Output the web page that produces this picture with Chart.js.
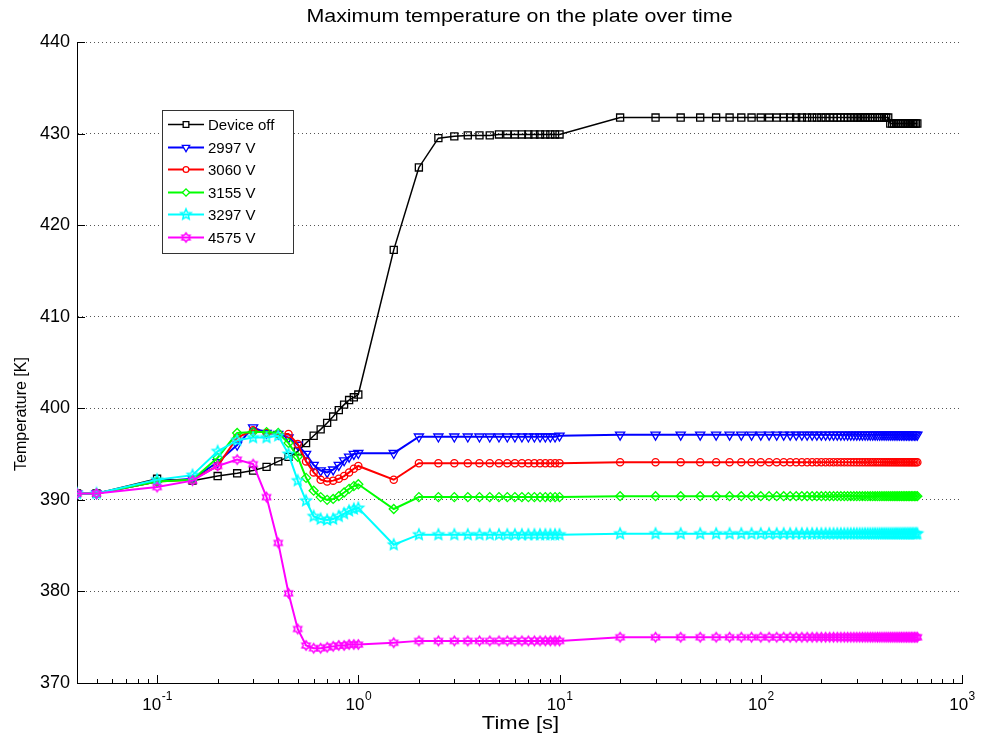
<!DOCTYPE html>
<html>
<head>
<meta charset="utf-8">
<script src="https://cdn.jsdelivr.net/npm/chart.js@4.4.1/dist/chart.umd.min.js"></script>
<style>
html, body { margin: 0; padding: 0; background: #fff; }
#wrap { width: 984px; height: 744px; }
</style>
</head>
<body>
<div id="wrap"><canvas id="tempChart" width="984" height="744"></canvas></div>
<script>
var timeS = [
  0.04,0.05,0.1,0.15,0.2,0.25,0.3,0.35,0.4,0.45,0.5,0.55,0.6,0.65,0.7,0.75,0.8,0.85,0.9,0.95,1,
  1.5,2,2.5,3,3.5,4,4.5,5,5.5,6,6.5,7,7.5,8,8.5,9,9.5,10,
  20,30,40,50,60,70,80,90,100,110,120,130,140,150,160,170,180,190,200,210,
  220,230,240,250,260,270,280,290,300,310,320,330,340,350,360,370,380,390,400,410,
  420,430,440,450,460,470,480,490,500,510,520,530,540,550,560,570,580,590,600
];

var deviceOff = [
  390.7,390.7,392.3,392.1,392.6,392.9,393.2,393.6,394.2,394.7,395.3,396.2,397.0,397.7,398.4,399.1,399.8,400.4,400.9,401.2,401.5,
  417.3,426.3,429.5,429.7,429.8,429.8,429.8,429.9,429.9,429.9,429.9,429.9,429.9,429.9,429.9,429.9,429.9,429.9,
  431.75,431.75,431.75,431.75,431.75,431.75,431.75,431.75,431.75,431.75,431.75,431.75,431.75,431.75,431.75,431.75,431.75,431.75,431.75,431.75,
  431.75,431.75,431.75,431.75,431.75,431.75,431.75,431.75,431.75,431.75,431.75,431.75,431.75,431.75,431.75,431.75,431.75,431.75,431.75,431.75,
  431.75,431.75,431.1,431.1,431.1,431.1,431.1,431.1,431.1,431.1,431.1,431.1,431.1,431.1,431.1,431.1,431.1,431.1,431.1
];
var v2997 = [
  390.7,390.7,392.0,392.3,394.1,396.0,397.9,397.3,397.2,396.8,396.0,395.0,393.8,393.2,393.0,393.3,393.8,394.3,394.7,395.0,395.1,
  395.1,396.9,396.9,396.9,396.9,396.9,396.9,396.9,396.9,396.9,396.9,396.9,396.9,396.9,396.9,396.9,396.9,397.0,
  397.1,397.1,397.1,397.1,397.1,397.1,397.1,397.1,397.1,397.1,397.1,397.1,397.1,397.1,397.1,397.1,397.1,397.1,397.1,397.1,
  397.1,397.1,397.1,397.1,397.1,397.1,397.1,397.1,397.1,397.1,397.1,397.1,397.1,397.1,397.1,397.1,397.1,397.1,397.1,397.1,
  397.1,397.1,397.1,397.1,397.1,397.1,397.1,397.1,397.1,397.1,397.1,397.1,397.1,397.1,397.1,397.1,397.1,397.1,397.1
];
var v3060 = [
  390.7,390.7,392.0,392.2,393.7,396.8,397.6,397.3,397.2,397.2,396.1,394.2,393.0,392.2,392.0,392.1,392.3,392.6,393.0,393.4,393.7,
  392.2,394.0,394.0,394.0,394.0,394.0,394.0,394.0,394.0,394.0,394.0,394.0,394.0,394.0,394.0,394.0,394.0,394.0,
  394.1,394.1,394.1,394.1,394.1,394.1,394.1,394.1,394.1,394.1,394.1,394.1,394.1,394.1,394.1,394.1,394.1,394.1,394.1,394.1,
  394.1,394.1,394.1,394.1,394.1,394.1,394.1,394.1,394.1,394.1,394.1,394.1,394.1,394.1,394.1,394.1,394.1,394.1,394.1,394.1,
  394.1,394.1,394.1,394.1,394.1,394.1,394.1,394.1,394.1,394.1,394.1,394.1,394.1,394.1,394.1,394.1,394.1,394.1,394.1
];
var v3155 = [
  390.7,390.7,392.0,392.2,394.6,397.3,397.4,397.4,397.3,396.2,394.7,392.4,391.0,390.3,390.0,390.1,390.4,390.8,391.2,391.5,391.7,
  389.0,390.3,390.3,390.3,390.3,390.3,390.3,390.3,390.3,390.3,390.3,390.3,390.3,390.3,390.3,390.3,390.3,390.3,
  390.4,390.4,390.4,390.4,390.4,390.4,390.4,390.4,390.4,390.4,390.4,390.4,390.4,390.4,390.4,390.4,390.4,390.4,390.4,390.4,
  390.4,390.4,390.4,390.4,390.4,390.4,390.4,390.4,390.4,390.4,390.4,390.4,390.4,390.4,390.4,390.4,390.4,390.4,390.4,390.4,
  390.4,390.4,390.4,390.4,390.4,390.4,390.4,390.4,390.4,390.4,390.4,390.4,390.4,390.4,390.4,390.4,390.4,390.4,390.4
];
var v3297 = [
  390.7,390.7,392.2,392.7,395.3,396.5,396.8,396.8,397.0,395.0,392.1,389.9,388.2,387.9,387.8,387.9,388.2,388.5,388.8,389.0,389.1,
  385.1,386.2,386.2,386.2,386.2,386.2,386.2,386.2,386.2,386.2,386.2,386.2,386.2,386.2,386.2,386.2,386.2,386.2,
  386.3,386.3,386.3,386.3,386.3,386.3,386.3,386.3,386.3,386.3,386.3,386.3,386.3,386.3,386.3,386.3,386.3,386.3,386.3,386.3,
  386.3,386.3,386.3,386.3,386.3,386.3,386.3,386.3,386.3,386.3,386.3,386.3,386.3,386.3,386.3,386.3,386.3,386.3,386.3,386.3,
  386.3,386.3,386.3,386.3,386.3,386.3,386.3,386.3,386.3,386.3,386.3,386.3,386.3,386.3,386.3,386.3,386.3,386.3,386.3
];
var v4575 = [
  390.7,390.7,391.4,392.1,393.7,394.4,393.9,390.3,385.3,379.8,375.9,374.1,373.8,373.8,373.9,374.0,374.1,374.1,374.2,374.2,374.2,
  374.4,374.6,374.6,374.6,374.6,374.6,374.6,374.6,374.6,374.6,374.6,374.6,374.6,374.6,374.6,374.6,374.6,374.6,
  375.0,375.0,375.0,375.0,375.0,375.0,375.0,375.0,375.0,375.0,375.0,375.0,375.0,375.0,375.0,375.0,375.0,375.0,375.0,375.0,
  375.0,375.0,375.0,375.0,375.0,375.0,375.0,375.0,375.0,375.0,375.0,375.0,375.0,375.0,375.0,375.0,375.0,375.0,375.0,375.0,
  375.0,375.0,375.0,375.0,375.0,375.0,375.0,375.0,375.0,375.0,375.0,375.0,375.0,375.0,375.0,375.0,375.0,375.0,375.0
];

var seriesLabels = ["Device off", "2997 V", "3060 V", "3155 V", "3297 V", "4575 V"];
var seriesColors = ["#000000", "#0000ff", "#ff0000", "#00ff00", "#00ffff", "#ff00ff"];
var yTicks = [370, 380, 390, 400, 410, 420, 430, 440];
var xTickValues = [0.1, 1, 10, 100, 1000];
var xTickExps = ["-1", "0", "1", "2", "3"];
var chartTitle = "Maximum temperature on the plate over time";
var xTitle = "Time [s]";
var yTitle = "Temperature [K]";

var FONT = "'Liberation Sans', Arial, Helvetica, sans-serif";

function starImage(n, color, rOut, rIn, lw) {
  var size = Math.ceil(rOut * 2 + lw * 2 + 2);
  var c = document.createElement("canvas");
  c.width = size; c.height = size;
  var g = c.getContext("2d");
  g.translate(size / 2, size / 2);
  g.beginPath();
  for (var k = 0; k < 2 * n; k++) {
    var r = (k % 2 === 0) ? rOut : rIn;
    var a = -Math.PI / 2 + k * Math.PI / n;
    g.lineTo(r * Math.cos(a), r * Math.sin(a));
  }
  g.closePath();
  g.strokeStyle = color;
  g.lineWidth = lw;
  g.stroke();
  return c;
}

var markerStyles = [
  { pointStyle: "rect", radius: 5, rotation: 0 },
  { pointStyle: "triangle", radius: 5.3, rotation: 180 },
  { pointStyle: "circle", radius: 3.6, rotation: 0 },
  { pointStyle: "rectRot", radius: 4.5, rotation: 0 },
  { pointStyle: starImage(5, "#00ffff", 5.5, 2.5, 1.5), radius: 6, rotation: 0 },
  { pointStyle: starImage(6, "#ff00ff", 4.6, 2.8, 1.6), radius: 6, rotation: 0 }
];

var allValues = [deviceOff, v2997, v3060, v3155, v3297, v4575];

var datasets = allValues.map(function(vals, i) {
  return {
    label: seriesLabels[i],
    data: timeS.map(function(t, j) { return { x: t, y: vals[j] }; }),
    borderColor: seriesColors[i],
    backgroundColor: seriesColors[i],
    borderWidth: i === 0 ? 1.5 : 2,
    pointStyle: markerStyles[i].pointStyle,
    pointRadius: markerStyles[i].radius,
    pointRotation: markerStyles[i].rotation,
    pointBorderColor: seriesColors[i],
    pointBackgroundColor: "rgba(255,255,255,0)",
    pointBorderWidth: 1.3,
    tension: 0,
    fill: false,
    order: 5 - i
  };
});

// draws text stretched horizontally, centred on cx
function stretchedText(ctx, text, cx, cy, size, sx, rot) {
  ctx.save();
  ctx.font = size + "px " + FONT;
  ctx.textAlign = "center";
  ctx.textBaseline = "middle";
  ctx.translate(cx, cy);
  if (rot) ctx.rotate(rot);
  ctx.scale(sx, 1);
  ctx.fillText(text, 0, 0);
  ctx.restore();
}

var axesDecor = {
  id: "axesDecor",
  afterDraw: function(chart) {
    var ctx = chart.ctx;
    var xs = chart.scales.x;
    var ys = chart.scales.y;
    var area = chart.chartArea;
    ctx.save();

    // inward tick marks
    ctx.strokeStyle = "#000";
    ctx.lineWidth = 1;
    ctx.beginPath();
    yTicks.forEach(function(v) {
      var py = Math.round(ys.getPixelForValue(v)) + 0.5;
      ctx.moveTo(area.left, py);
      ctx.lineTo(area.left + 8, py);
    });
    for (var d = -2; d <= 3; d++) {
      for (var m = 1; m <= 9; m++) {
        var v = m * Math.pow(10, d);
        if (v < xs.min || v > xs.max * 1.0001) continue;
        var px = Math.round(xs.getPixelForValue(v)) + 0.5;
        var len = (m === 1) ? 8 : 4;
        ctx.moveTo(px, area.bottom);
        ctx.lineTo(px, area.bottom - len);
      }
    }
    ctx.stroke();

    // x tick labels as 10 with superscript exponent
    ctx.fillStyle = "#000";
    ctx.textBaseline = "alphabetic";
    ctx.textAlign = "left";
    xTickValues.forEach(function(v, i) {
      var px = xs.getPixelForValue(v);
      ctx.font = "17px " + FONT;
      var w1 = ctx.measureText("10").width;
      ctx.font = "12px " + FONT;
      var w2 = ctx.measureText(xTickExps[i]).width;
      var x0 = px - (w1 + w2) / 2;
      ctx.font = "17px " + FONT;
      ctx.fillText("10", x0, 710);
      ctx.font = "12px " + FONT;
      ctx.fillText(xTickExps[i], x0 + w1 + 0.5, 700);
    });

    // title and axis labels
    ctx.fillStyle = "#000";
    stretchedText(ctx, chartTitle, (area.left + area.right) / 2, 17, 18, 1.19, 0);
    stretchedText(ctx, xTitle, (area.left + area.right) / 2 + 1, 724, 18, 1.22, 0);
    stretchedText(ctx, yTitle, 22, 414, 16, 1, -Math.PI / 2);

    // legend box
    var bx = 162, by = 110, bw = 131, bh = 143;
    ctx.fillStyle = "#fff";
    ctx.fillRect(bx, by, bw, bh);
    ctx.strokeStyle = "#333";
    ctx.lineWidth = 1;
    ctx.strokeRect(bx + 0.5, by + 0.5, bw, bh);
    ctx.font = "15px " + FONT;
    ctx.textBaseline = "middle";
    ctx.textAlign = "left";
    chart.data.datasets.forEach(function(ds, i) {
      var ly = Math.round(by + 14 + i * 22.6) + 0.5;
      ctx.strokeStyle = ds.borderColor;
      ctx.lineWidth = ds.borderWidth;
      ctx.beginPath();
      ctx.moveTo(168, ly);
      ctx.lineTo(204, ly);
      ctx.stroke();
      ctx.lineWidth = ds.pointBorderWidth;
      ctx.fillStyle = "#fff";
      Chart.helpers.drawPoint(ctx, {
        pointStyle: ds.pointStyle,
        rotation: ds.pointRotation,
        radius: ds.pointRadius * 0.8,
        borderWidth: ds.pointBorderWidth
      }, 186, ly);
      ctx.fillStyle = "#000";
      ctx.fillText(ds.label, 208, ly + 1);
    });

    ctx.restore();
  }
};

var tempChart = new Chart(document.getElementById("tempChart"), {
  type: "line",
  data: { datasets: datasets },
  options: {
    responsive: false,
    animation: false,
    events: [],
    devicePixelRatio: 1,
    layout: { padding: { left: 0, right: 22, top: 42, bottom: 0 } },
    plugins: {
      legend: { display: false },
      tooltip: { enabled: false },
      title: { display: false }
    },
    scales: {
      x: {
        type: "logarithmic",
        min: 0.04,
        max: 1000,
        grid: { display: false, drawTicks: false },
        border: { display: true, color: "#000", width: 1 },
        ticks: { display: false },
        afterFit: function(scale) { scale.height = 61; }
      },
      y: {
        min: 370,
        max: 440,
        grid: { display: true, drawTicks: false, color: "#555", lineWidth: 1 },
        border: { display: true, color: "#000", width: 1, dash: [1, 3] },
        ticks: {
          stepSize: 10,
          padding: 7,
          color: "#000",
          font: { family: FONT, size: 18 }
        },
        afterFit: function(scale) { scale.width = 77; }
      }
    }
  },
  plugins: [axesDecor]
});
</script>
</body>
</html>
